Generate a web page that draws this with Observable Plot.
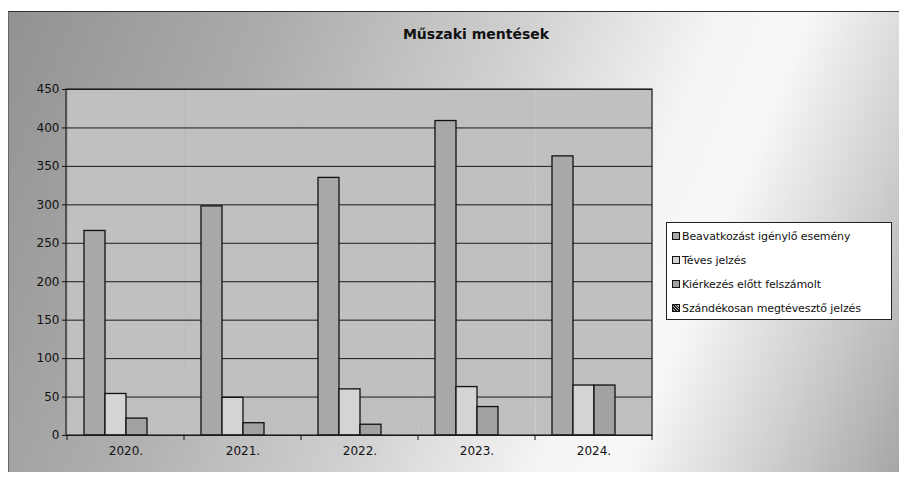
<!DOCTYPE html>
<html>
<head>
<meta charset="utf-8">
<script src="https://cdn.jsdelivr.net/npm/d3@7"></script>
<script src="https://cdn.jsdelivr.net/npm/@observablehq/plot@0.6"></script>
<style>
  html, body { margin: 0; padding: 0; background: #ffffff; }
  #wrap { position: relative; width: 899px; height: 481px; overflow: hidden; font-family: "DejaVu Sans", sans-serif; }
  #bg { position: absolute; left: 8px; top: 11px; width: 891px; height: 460px;
        background: linear-gradient(112deg, #929292 0%, #acacac 25%, #d0d0d0 48%, #f4f4f4 66%, #f8f8f8 74%, #cdcdcd 88%, #a6a6a6 100%);
        border-top: 1.5px solid #333; border-left: 1px solid #666; }
  #plot { position: absolute; left: 0; top: 0; }
  #title { position: absolute; left: 336px; top: 26px; width: 280px; text-align: center;
           font-weight: bold; font-size: 14px; color: #111; }
  #legend { position: absolute; left: 666px; top: 222px; width: 224px; height: 96px;
            background: #ffffff; border: 1px solid #222; }
  .item { position: absolute; left: 5px; font-size: 11px; color: #111; white-space: nowrap; letter-spacing: -0.1px; }
  .sw { display: inline-block; width: 6px; height: 6px; border: 1px solid #111; margin-right: 2px; vertical-align: 0px; }
</style>
</head>
<body>
<div id="wrap">
  <div id="bg"></div>
  <div id="plot"></div>
  <div id="title"></div>
  <div id="legend"></div>
</div>
<script>
const title = "Műszaki mentések";
const years = ["2020.", "2021.", "2022.", "2023.", "2024."];
const seriesNames = [
  "Beavatkozást igénylő esemény",
  "Téves jelzés",
  "Kiérkezés előtt felszámolt",
  "Szándékosan megtévesztő jelzés"
];
const beavatkozas = [266, 298, 335, 409, 363];
const teves = [54, 49, 60, 63, 65];
const kierkezes = [22, 16, 14, 37, 65];
const szandekos = [0, 0, 0, 0, 0];
const yTicks = [0, 50, 100, 150, 200, 250, 300, 350, 400, 450];
const colors = ["#a8a8a8", "#d4d4d4", "#a2a2a2", "#9a9a9a"];

const values = [beavatkozas, teves, kierkezes, szandekos];
const data = years.flatMap((yr, i) => seriesNames.map((s, j) => ({year: yr, series: s, value: values[j][i]})));

const plot = Plot.plot({
  width: 660,
  height: 470,
  marginLeft: 66,
  marginRight: 8,
  marginTop: 89,
  marginBottom: 35,
  style: {background: "transparent", fontFamily: "DejaVu Sans, sans-serif", fontSize: "12px", color: "#111"},
  fx: {domain: years, padding: 0, label: null},
  x: {domain: seriesNames, paddingInner: 0, paddingOuter: 0.75, axis: null},
  y: {domain: [0, 450], label: null},
  color: {domain: seriesNames, range: colors},
  marks: [
    Plot.frame({fill: "#c0c0c0", stroke: null}),
    Plot.ruleY(yTicks, {stroke: "#1a1a1a", strokeWidth: 1}),
    Plot.barY(data, {fx: "year", x: "series", y: "value", fill: "series", stroke: "#111", strokeWidth: 1.3}),
    Plot.axisY(yTicks, {tickSize: 5, tickPadding: 3, label: null, stroke: "#111"}),
    Plot.axisFx({anchor: "bottom", tickSize: 0, tickPadding: 11, label: null})
  ]
});
document.getElementById("plot").appendChild(plot);

// border and category boundary ticks, positioned via Plot's scales
const fx = plot.scale("fx");
const ys = plot.scale("y");
const svg = d3.select(plot);
const x0 = fx.range[0], x1 = fx.range[1];
const yTop = ys.apply(450), yBot = ys.apply(0);
svg.append("rect").attr("x", x0).attr("y", yTop).attr("width", x1 - x0).attr("height", yBot - yTop)
  .attr("fill", "none").attr("stroke", "#222").attr("stroke-width", 1.2);
const bounds = years.map(y => fx.apply(y)).concat([x1]);
svg.append("g").selectAll("line").data(bounds).join("line")
  .attr("x1", d => d).attr("x2", d => d).attr("y1", yBot).attr("y2", yBot + 5)
  .attr("stroke", "#111").attr("stroke-width", 1);

document.getElementById("title").textContent = title;

const legend = document.getElementById("legend");
seriesNames.forEach((s, i) => {
  const it = document.createElement("div");
  it.className = "item";
  it.style.top = (7 + i * 24) + "px";
  const sw = document.createElement("span");
  sw.className = "sw";
  if (i === 3) {
    sw.style.background = "repeating-linear-gradient(45deg, #222 0 1px, #bbb 1px 2px)";
  } else {
    sw.style.background = colors[i];
  }
  it.appendChild(sw);
  it.appendChild(document.createTextNode(s));
  legend.appendChild(it);
});
</script>
</body>
</html>
